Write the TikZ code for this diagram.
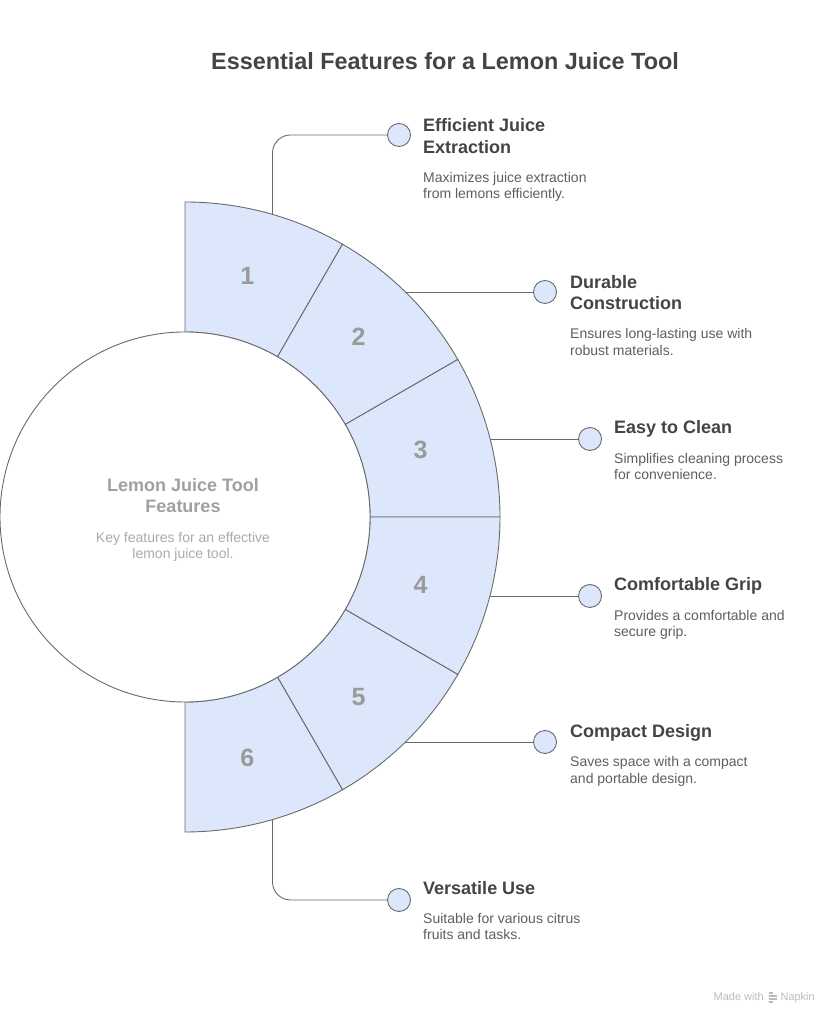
\documentclass[tikz,border=0pt]{standalone}
\usepackage{fontspec}
\setmainfont{Liberation Sans}
\definecolor{segblue}{HTML}{DCE7FC}
\definecolor{linegray}{HTML}{6A6A6A}
\definecolor{inkdark}{HTML}{444444}
\definecolor{inkdesc}{HTML}{5E5E5E}
\definecolor{inknum}{HTML}{9A9A9A}
\definecolor{inkhub}{HTML}{A0A0A0}
\definecolor{inkhubdesc}{HTML}{ABABAB}
\definecolor{inkmark}{HTML}{BBBBBB}
\begin{document}
\begin{tikzpicture}[x=1pt,y=1pt,
	seg/.style={fill=segblue,draw=linegray,line width=0.9pt},
	hub/.style={circle,fill=white,draw=linegray,line width=0.9pt,minimum size=370pt,inner sep=0pt},
	num/.style={text=inknum,font=\fontsize{25}{28}\selectfont\bfseries},
	dot/.style={circle,fill=segblue,draw=linegray,line width=0.9pt,minimum size=23pt,inner sep=0pt},
	conn/.style={draw=linegray,line width=0.9pt,rounded corners=18pt},
	ttl/.style={anchor=base west,align=left,inner sep=0pt,text=inkdark,font=\fontsize{18}{21.7}\selectfont\bfseries},
	dsc/.style={anchor=base west,align=left,inner sep=0pt,text=inkdesc,font=\fontsize{14}{16.3}\selectfont},
	wmark/.style={anchor=base east,inner sep=0pt,text=inkmark,font=\fontsize{11}{13}\selectfont}]
	\useasboundingbox (0,0) rectangle (838,1024);
	%title
	\node[anchor=base,inner sep=0pt,text=inkdark,font=\fontsize{23.4}{28}\selectfont\bfseries] (title) at (445,954.7) {Essential Features for a Lemon Juice Tool};
	%ring of six sectors
	\coordinate (C) at (185,507);
	\draw[seg] ([shift={(90:315)}]C) arc (90:60:315) -- ([shift={(60:185)}]C) arc (60:90:185) -- cycle;
	\draw[seg] ([shift={(60:315)}]C) arc (60:30:315) -- ([shift={(30:185)}]C) arc (30:60:185) -- cycle;
	\draw[seg] ([shift={(30:315)}]C) arc (30:0:315) -- ([shift={(0:185)}]C) arc (0:30:185) -- cycle;
	\draw[seg] ([shift={(0:315)}]C) arc (0:-30:315) -- ([shift={(-30:185)}]C) arc (-30:0:185) -- cycle;
	\draw[seg] ([shift={(-30:315)}]C) arc (-30:-60:315) -- ([shift={(-60:185)}]C) arc (-60:-30:185) -- cycle;
	\draw[seg] ([shift={(-60:315)}]C) arc (-60:-90:315) -- ([shift={(-90:185)}]C) arc (-90:-60:185) -- cycle;
	\node[num] (n1) at ([shift={(75.5:249)}]C) {1};
	\node[num] (n2) at ([shift={(46:250)}]C) {2};
	\node[num] (n3) at ([shift={(16:245)}]C) {3};
	\node[num] (n4) at ([shift={(-16:245)}]C) {4};
	\node[num] (n5) at ([shift={(-46:250)}]C) {5};
	\node[num] (n6) at ([shift={(-75.5:249)}]C) {6};
	%white hub with its text
	\node[hub] (hub) at (C) {};
	\node[anchor=base,align=center,inner sep=0pt,text=inkhub,font=\fontsize{18}{21}\selectfont\bfseries] (hubt) at (183,511.3) {Lemon Juice Tool\\Features};
	\node[anchor=base,align=center,inner sep=0pt,text=inkhubdesc,font=\fontsize{14}{16}\selectfont] (hubd) at (183,465.3) {Key features for an effective\\lemon juice tool.};
	%dots and connectors
	\node[dot] (d1) at (399,889) {};
	\node[dot] (d2) at (545,732) {};
	\node[dot] (d3) at (590,585) {};
	\node[dot] (d4) at (590,428) {};
	\node[dot] (d5) at (545,282) {};
	\node[dot] (d6) at (399,124) {};
	\coordinate (a1) at (272.5,809.6);
	\coordinate (a2) at (405.4,732);
	\coordinate (a3) at (490.2,585);
	\coordinate (a4) at (490.2,428);
	\coordinate (a5) at (405.4,282);
	\coordinate (a6) at (272.5,204.4);
	\draw[conn] (a1) |- (d1);
	\draw[conn] (a2) -- (d2);
	\draw[conn] (a3) -- (d3);
	\draw[conn] (a4) -- (d4);
	\draw[conn] (a5) -- (d5);
	\draw[conn] (a6) |- (d6);
	%feature texts (base = last line)
	\node[ttl] (t1) at (423,870.7) {Efficient Juice\\Extraction};
	\node[dsc] (s1) at (423,825) {Maximizes juice extraction\\from lemons efficiently.};
	\node[ttl] (t2) at (570,714) {Durable\\Construction};
	\node[dsc] (s2) at (570,668.7) {Ensures long-lasting use with\\robust materials.};
	\node[ttl] (t3) at (614,590.5) {Easy to Clean};
	\node[dsc] (s3) at (614,544.5) {Simplifies cleaning process\\for convenience.};
	\node[ttl] (t4) at (614,433.5) {Comfortable Grip};
	\node[dsc] (s4) at (614,387.5) {Provides a comfortable and\\secure grip.};
	\node[ttl] (t5) at (570,286.5) {Compact Design};
	\node[dsc] (s5) at (570,240.8) {Saves space with a compact\\and portable design.};
	\node[ttl] (t6) at (423,129) {Versatile Use};
	\node[dsc] (s6) at (423,84.3) {Suitable for various citrus\\fruits and tasks.};
	%watermark
	\node[wmark] (mark) at (815,23.3) {Napkin};
	\node[wmark] (made) at (764,23.3) {Made with};
	\draw[inkmark,line width=1.1pt] (768.5,31) -- (772.5,31) (768.5,28) -- (776.5,28) (768.5,25) -- (776.5,25) (768.5,22) -- (772.5,22);
\end{tikzpicture}
\end{document}
